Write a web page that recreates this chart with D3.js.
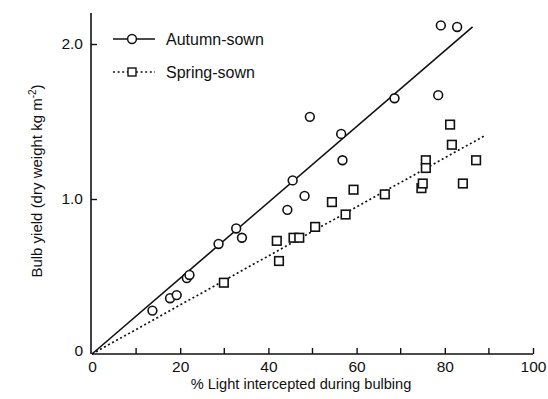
<!DOCTYPE html>
<html>
<head>
<meta charset="utf-8">
<script src="https://cdn.jsdelivr.net/npm/d3@7/dist/d3.min.js"></script>
<style>
  html, body { margin: 0; padding: 0; background: #fff; }
  svg { display: block; font-family: "Liberation Sans", Arial, sans-serif; }
</style>
</head>
<body>
<svg id="chart" width="548" height="399"></svg>
<script>
// Autumn-sown crops: light interception (%) vs bulb yield (kg m-2)
const autumnX = [13.7, 17.7, 19.2, 21.5, 22.1, 28.7, 32.7, 34.0, 44.3, 45.5, 48.2, 49.4, 56.5, 56.8, 68.6, 78.5, 79.1, 82.8];
const autumnY = [0.28, 0.36, 0.38, 0.49, 0.51, 0.71, 0.81, 0.75, 0.93, 1.12, 1.02, 1.53, 1.42, 1.25, 1.65, 1.67, 2.12, 2.11];

// Spring-sown crops
const springX = [29.9, 41.9, 42.4, 45.7, 47.0, 50.6, 54.4, 57.5, 59.3, 66.4, 74.7, 75.0, 75.7, 75.7, 81.2, 81.6, 84.1, 87.1];
const springY = [0.46, 0.73, 0.60, 0.75, 0.75, 0.82, 0.98, 0.90, 1.06, 1.03, 1.07, 1.10, 1.25, 1.20, 1.48, 1.35, 1.10, 1.25];

// Fitted lines through the origin: slope and x extent for [autumn, spring]
const fitSlopes = [0.02445, 0.01582];
const fitXEnd = [86.3, 88.9];

const seriesNames = ["Autumn-sown", "Spring-sown"];
const xTicks = [0, 20, 40, 60, 80, 100];
const xMinorTicks = [10, 30, 50, 70, 90];
const yTicks = [0, 1.0, 2.0];

const svg = d3.select("#chart");
const x = d3.scaleLinear().domain([0, 100]).range([92, 533]);
const y = d3.scaleLinear().domain([0, 1]).range([354, 199]);
const yTop = 2.2;

const ink = "#111";

// Axes (ticks point inward)
const xAxis = d3.axisBottom(x).tickValues(xTicks).tickSize(-6).tickPadding(7)
  .tickFormat(d3.format("d"));
const gx = svg.append("g").attr("transform", `translate(0,${y(0)})`).call(xAxis);
gx.select(".domain").attr("d", `M${x(0)},0H${x(100)}`);
gx.selectAll(".tick").filter(d => d === 0).select("line").remove();
svg.append("g").attr("transform", `translate(0,${y(0)})`)
  .selectAll("line").data(xMinorTicks).join("line")
  .attr("x1", d => x(d)).attr("x2", d => x(d)).attr("y1", 0).attr("y2", -6)
  .attr("stroke", ink).attr("stroke-width", 1.4);

const yAxis = d3.axisLeft(y).tickValues(yTicks).tickSize(-6).tickPadding(8)
  .tickFormat(d => d === 0 ? "0" : d3.format(".1f")(d));
const gy = svg.append("g").attr("transform", `translate(${x(0) - 1},0)`).call(yAxis);
gy.select(".domain").attr("d", `M0,${y(0)}V${y(yTop)}`);
gy.selectAll(".tick").filter(d => d === 0).select("line").remove();
gy.selectAll(".tick").filter(d => d === 0).select("text").attr("dy", "0.1em");

[gx, gy].forEach(g => {
  g.select(".domain").attr("stroke", ink).attr("stroke-width", 1.6).attr("fill", "none");
  g.selectAll(".tick line").attr("stroke", ink).attr("stroke-width", 1.4);
  g.selectAll(".tick text").attr("fill", ink).attr("font-size", 15.5)
    .attr("font-family", "Liberation Sans, Arial, sans-serif");
});

// Axis titles
svg.append("text")
  .attr("x", 301).attr("y", 389)
  .attr("text-anchor", "middle").attr("font-size", 14.6).attr("fill", ink)
  .text("% Light intercepted during bulbing");

const yt = svg.append("text")
  .attr("transform", `translate(42,${181}) rotate(-90)`)
  .attr("text-anchor", "middle").attr("font-size", 15).attr("fill", ink);
yt.append("tspan").text("Bulb yield (dry weight kg m");
yt.append("tspan").attr("font-size", 10).attr("dy", "-0.6em").text("-2");
yt.append("tspan").attr("dy", "0.4em").text(")");

// Fitted lines
const styles = [
  { dash: null },
  { dash: "2,2.6" }
];
fitSlopes.forEach((s, i) => {
  svg.append("line")
    .attr("x1", x(0)).attr("y1", y(0))
    .attr("x2", x(fitXEnd[i])).attr("y2", y(s * fitXEnd[i]))
    .attr("stroke", ink).attr("stroke-width", i === 0 ? 1.6 : 1.7)
    .attr("stroke-dasharray", styles[i].dash);
});

// Markers
const r = 4.4;
const side = 8.6;
svg.append("g").selectAll("rect").data(d3.range(springX.length)).join("rect")
  .attr("x", i => x(springX[i]) - side / 2)
  .attr("y", i => y(springY[i]) - side / 2)
  .attr("width", side).attr("height", side)
  .attr("fill", "#fff").attr("stroke", ink).attr("stroke-width", 1.6);

svg.append("g").selectAll("circle").data(d3.range(autumnX.length)).join("circle")
  .attr("cx", i => x(autumnX[i]))
  .attr("cy", i => y(autumnY[i]))
  .attr("r", r)
  .attr("fill", "#fff").attr("stroke", ink).attr("stroke-width", 1.6);

// Legend
const legend = svg.append("g");
const legendRows = [39, 72];
seriesNames.forEach((name, i) => {
  const ly = legendRows[i];
  legend.append("line")
    .attr("x1", 113).attr("x2", 155).attr("y1", ly).attr("y2", ly)
    .attr("stroke", ink).attr("stroke-width", 1.6)
    .attr("stroke-dasharray", styles[i].dash);
  if (i === 0) {
    legend.append("circle").attr("cx", 132).attr("cy", ly).attr("r", r)
      .attr("fill", "#fff").attr("stroke", ink).attr("stroke-width", 1.5);
  } else {
    legend.append("rect").attr("x", 132 - 4).attr("y", ly - 4)
      .attr("width", 8).attr("height", 8)
      .attr("fill", "#fff").attr("stroke", ink).attr("stroke-width", 1.4);
  }
  legend.append("text")
    .attr("x", 166).attr("y", ly + 5.5)
    .attr("font-size", 16).attr("fill", ink)
    .text(name);
});
</script>
</body>
</html>
